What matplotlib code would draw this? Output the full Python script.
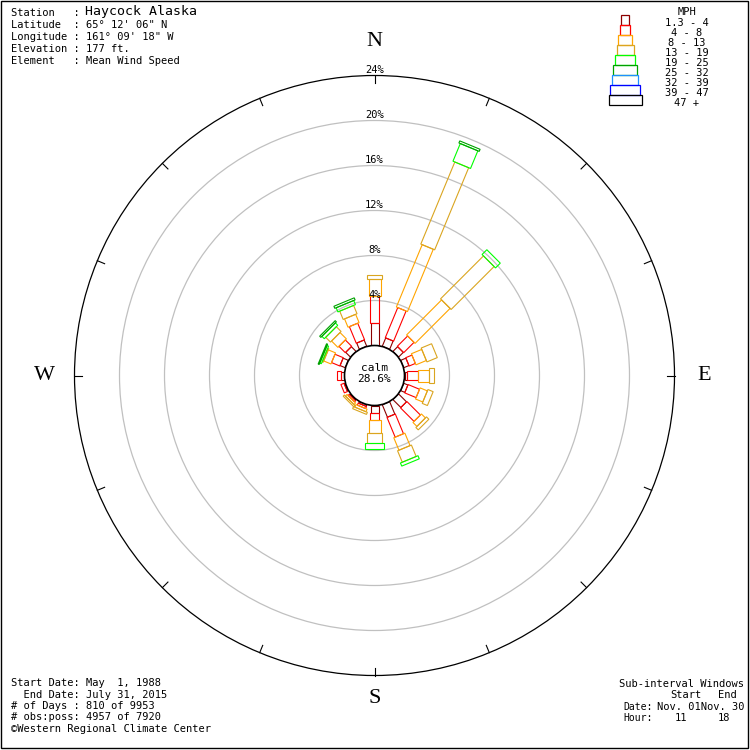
import numpy as np
import matplotlib.pyplot as plt
from matplotlib.patches import Polygon, Circle, Rectangle

# wind rose data (percent of observations), 16 directions clockwise from N
directions = ["N", "NNE", "NE", "ENE", "E", "ESE", "SE", "SSE",
              "S", "SSW", "SW", "WSW", "W", "WNW", "NW", "NNW"]
angles = np.arange(16) * 22.5

speed_labels = ["1.3 - 4", "4 - 8", "8 - 13", "13 - 19", "19 - 25",
                "25 - 32", "32 - 39", "39 - 47", "47 +"]
speed_colors = ["#8b0000", "#ff0000", "#ffa500", "#daa520", "#00ff00",
                "#00a000", "#1e90ff", "#0000ff", "#000000"]

mph_1_4 = [2.0, 0.8, 0.6, 0.5, 0.2, 0.4, 1.0, 1.2, 0.7, 0.15, 0.1, 0.1, 0.35, 0.5, 0.6, 0.6]
mph_4_8 = [2.4, 2.9, 1.3, 0.6, 1.0, 1.1, 1.7, 1.9, 0.6, 0.2, 0.15, 0.3, 0.35, 0.8, 0.8, 1.6]
mph_8_13 = [1.5, 6.0, 4.4, 1.0, 1.0, 0.7, 0.5, 1.2, 1.1, 0.25, 0.2, 0, 0, 0.7, 0.8, 0.8]
mph_13_19 = [0.4, 7.9, 5.4, 1.0, 0.4, 0.5, 0.3, 1.1, 0.9, 0.2, 0.15, 0, 0, 0.1, 0.6, 0.8]
mph_19_25 = [0, 1.7, 0.6, 0, 0, 0, 0, 0.3, 0.6, 0, 0, 0, 0, 0.15, 0.3, 0.4]
mph_25_32 = [0, 0.2, 0, 0, 0, 0, 0, 0, 0, 0, 0, 0, 0, 0.1, 0.15, 0.2]
mph_32_39 = [0] * 16
mph_39_47 = [0] * 16
mph_47_up = [0] * 16
classes = [mph_1_4, mph_4_8, mph_8_13, mph_13_19, mph_19_25,
           mph_25_32, mph_32_39, mph_39_47, mph_47_up]

calm_pct = 28.6
ring_pcts = [4, 8, 12, 16, 20, 24]

# layout
PX = 11.25               # pixels per percent
CX, CY = 374.5, 375.5    # rose centre in pixels
calm_r = 30 / PX
box_px = [8, 9, 12, 15, 19, 22, 26, 30, 33]
legend_px = [8, 10, 14, 17, 20, 24, 26, 30, 33]
mono = "DejaVu Sans Mono"

fig = plt.figure(figsize=(7.5, 7.5), dpi=100)
ax = fig.add_axes([0, 0, 1, 1])
ax.set_xlim(-CX / PX, (750 - CX) / PX)
ax.set_ylim(-(750 - CY) / PX, CY / PX)
ax.axis("off")

# rings
for p in ring_pcts[:-1]:
    ax.add_patch(Circle((0, 0), calm_r + p, fill=False, ec="#c0c0c0", lw=0.9))
R = calm_r + ring_pcts[-1]
ax.add_patch(Circle((0, 0), R, fill=False, ec="black", lw=0.9))
for a in np.radians(angles):
    ax.plot([R * np.sin(a), (R - 0.7) * np.sin(a)],
            [R * np.cos(a), (R - 0.7) * np.cos(a)], color="black", lw=0.8)
for p in ring_pcts:
    ax.text(0, calm_r + p + 0.5, f"{p}%", ha="center", va="center",
            fontsize=7.5, family=mono, zorder=5)

# bars
for i, th in enumerate(np.radians(angles)):
    u = np.array([np.sin(th), np.cos(th)])
    v = np.array([np.cos(th), -np.sin(th)])
    lo = calm_r
    for k, vals in enumerate(classes):
        if vals[i] <= 0:
            continue
        hi = lo + vals[i]
        hw = box_px[k] / 2 / PX
        pts = [lo * u - hw * v, hi * u - hw * v, hi * u + hw * v, lo * u + hw * v]
        ax.add_patch(Polygon(pts, closed=True, fill=False,
                             ec=speed_colors[k], lw=0.8))
        lo = hi

ax.add_patch(Circle((0, 0), calm_r, fc="white", ec="black", lw=1.2, zorder=4))
ax.text(0, 0.7, "calm", ha="center", va="center", fontsize=8, family=mono, zorder=5)
ax.text(0, -0.3, f"{calm_pct}%", ha="center", va="center", fontsize=8,
        family=mono, zorder=5)

# compass letters
for lab, x, y in [("N", 0, 29.65), ("S", 0, -28.7), ("W", -29.3, 0), ("E", 29.3, 0)]:
    ax.text(x, y, lab, ha="center", va="center", fontsize=16,
            family="Liberation Serif")

# overlay in pixel coordinates
ov = fig.add_axes([0, 0, 1, 1])
ov.set_xlim(0, 750)
ov.set_ylim(750, 0)
ov.axis("off")
ov.patch.set_alpha(0)

ov.add_patch(Rectangle((0.5, 0.5), 747, 747, fill=False, ec="black", lw=1))

header = [("Station   : ", "Haycock Alaska"),
          ("Latitude  : ", "65° 12' 06\" N"),
          ("Longitude : ", "161° 09' 18\" W"),
          ("Elevation : ", "177 ft."),
          ("Element   : ", "Mean Wind Speed")]
for j, (k, v) in enumerate(header):
    y = 13 + 12 * j
    if j == 0:
        ov.text(11, y, k, fontsize=7.5, family=mono, va="center")
        ov.text(85, y - 1, v, fontsize=9.5, family=mono, va="center")
    else:
        ov.text(11, y, k + v, fontsize=7.5, family=mono, va="center")

# legend
ov.text(687, 12, "MPH", fontsize=7.5, family=mono, ha="center", va="center")
for k, lab in enumerate(speed_labels):
    w = legend_px[k]
    ov.add_patch(Rectangle((625 - w / 2, 15 + 10 * k), w, 10, fill=False,
                           ec=speed_colors[k], lw=0.9))
    ov.text(687, 22.5 + 10 * k, lab, fontsize=7.5, family=mono,
            ha="center", va="center")

footer = ["Start Date: May  1, 1988",
          "  End Date: July 31, 2015",
          "# of Days : 810 of 9953",
          "# obs:poss: 4957 of 7920"]
for j, s in enumerate(footer):
    ov.text(11, 683 + 11.5 * j, s, fontsize=7.5, family=mono, va="center")
ov.text(11, 729, "\u00a9Western Regional Climate Center", fontsize=7.5,
        family=mono, va="center")

ov.text(619, 684, "Sub-interval Windows", fontsize=7.5, family=mono, va="center")
ov.text(670, 695, "Start", fontsize=7.5, family=mono, va="center")
ov.text(718, 695, "End", fontsize=7.5, family=mono, va="center")
ov.text(623, 707, "Date:", fontsize=7, family=mono, va="center")
ov.text(657, 707, "Nov. 01Nov. 30", fontsize=7.5, family=mono, va="center")
ov.text(623, 718, "Hour:", fontsize=7, family=mono, va="center")
ov.text(675, 718, "11", fontsize=7.5, family=mono, va="center")
ov.text(718, 718, "18", fontsize=7.5, family=mono, va="center")

fig.savefig("out.png", dpi=100)
